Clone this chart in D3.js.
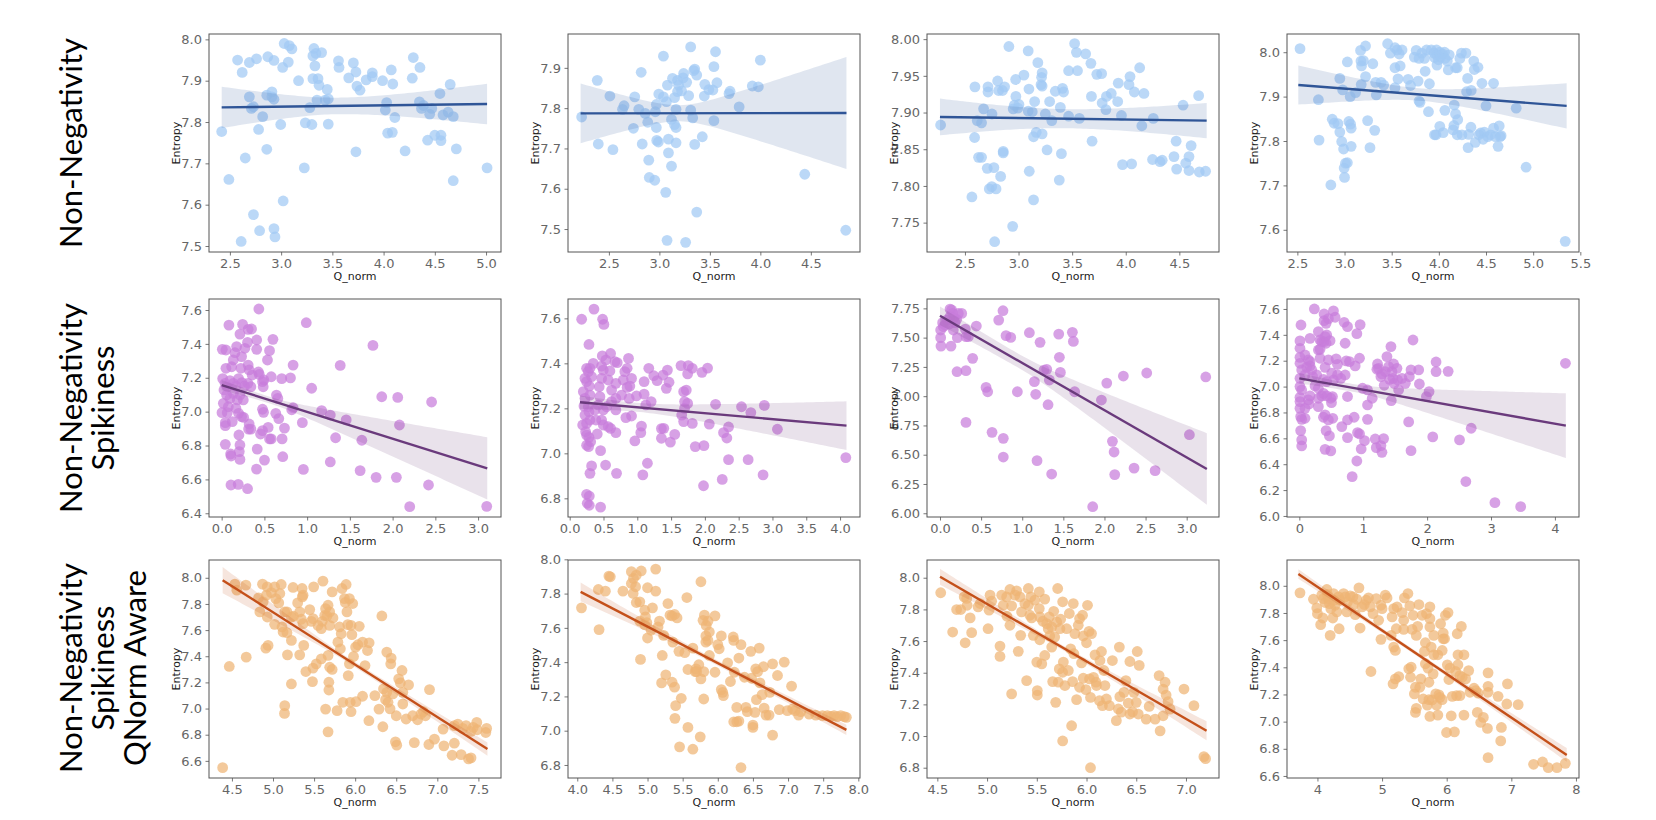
<!DOCTYPE html>
<html><head><meta charset="utf-8">
<script src="https://cdn.jsdelivr.net/npm/d3@7"></script>
<style>body{margin:0;background:#fff;} svg{display:block;}</style>
</head><body>
<svg id="chart" width="1656" height="820"></svg>
<script>
// ---------------- DATA ----------------
const rowLabels = [["Non-Negativity"], ["Non-Negativity", "Spikiness"], ["Non-Negativity", "Spikiness", "QNorm Aware"]];
const xLabel = "Q_norm";
const yLabel = "Entropy";

const xTickLabels = [
  ["2.5","3.0","3.5","4.0","4.5","5.0"], ["2.5","3.0","3.5","4.0","4.5"], ["2.5","3.0","3.5","4.0","4.5"], ["2.5","3.0","3.5","4.0","4.5","5.0","5.5"],
  ["0.0","0.5","1.0","1.5","2.0","2.5","3.0"], ["0.0","0.5","1.0","1.5","2.0","2.5","3.0","3.5","4.0"], ["0.0","0.5","1.0","1.5","2.0","2.5","3.0"], ["0","1","2","3","4"],
  ["4.5","5.0","5.5","6.0","6.5","7.0","7.5"], ["4.0","4.5","5.0","5.5","6.0","6.5","7.0","7.5","8.0"], ["4.5","5.0","5.5","6.0","6.5","7.0"], ["4","5","6","7","8"]
];
const yTickLabels = [
  ["7.5","7.6","7.7","7.8","7.9","8.0"], ["7.5","7.6","7.7","7.8","7.9"], ["7.75","7.80","7.85","7.90","7.95","8.00"], ["7.6","7.7","7.8","7.9","8.0"],
  ["6.4","6.6","6.8","7.0","7.2","7.4","7.6"], ["6.8","7.0","7.2","7.4","7.6"], ["6.00","6.25","6.50","6.75","7.00","7.25","7.50","7.75"], ["6.0","6.2","6.4","6.6","6.8","7.0","7.2","7.4","7.6"],
  ["6.6","6.8","7.0","7.2","7.4","7.6","7.8","8.0"], ["6.8","7.0","7.2","7.4","7.6","7.8","8.0"], ["6.8","7.0","7.2","7.4","7.6","7.8","8.0"], ["6.6","6.8","7.0","7.2","7.4","7.6","7.8","8.0"]
];
const xLimits = [
  [2.296,5.146],[2.095,4.987],[2.146,4.870],[2.390,5.486],
  [-0.148,3.268],[-0.025,4.295],[-0.158,3.393],[-0.193,4.377],
  [4.221,7.775],[3.868,8.024],[4.396,7.332],[3.529,8.047]
];
const yLimits = [
  [7.4855,8.013],[7.443,7.984],[7.710,8.007],[7.550,8.041],
  [6.378,7.665],[6.717,7.686],[5.968,7.830],[5.992,7.677],
  [6.469,8.136],[6.724,7.996],[6.735,8.112],[6.585,8.190]
];
// regression line: [xStart, yStart, xEnd, yEnd]
const fitLines = [
  [2.42,7.8355,5.01,7.8435],[2.22,7.787,4.853,7.788],[2.267,7.894,4.755,7.889],[2.51,7.926,5.355,7.879],
  [0.0,7.157,3.107,6.665],[0.152,7.227,4.095,7.123],[0.0,7.687,3.245,6.378],[0.0,7.064,4.171,6.698],
  [4.387,7.982,7.61,6.69],[4.048,7.810,7.830,7.005],[4.527,8.006,7.207,7.033],[3.705,8.087,7.857,6.755]
];
// confidence band half-widths: [at start, narrowest, at end]
const ciHalfWidths = [
  [0.05,0.02,0.049],[0.074,0.02,0.139],[0.025,0.013,0.024],[0.044,0.014,0.051],
  [0.03,0.02,0.184],[0.03,0.02,0.108],[0.08,0.06,0.306],[0.04,0.03,0.25],
  [0.1,0.02,0.05],[0.054,0.015,0.03],[0.05,0.015,0.06],[0.035,0.015,0.05]
];

const pts1 = [[2.575,7.95],[2.62,7.92],[2.69,7.944],[2.76,7.953],[2.87,7.958],[2.93,7.949],[3.03,7.99],[3.08,7.985],[3.105,7.977],[3.07,7.945],[3.015,7.932],[3.32,7.978],[3.34,7.966],[3.31,7.96],[3.395,7.968],[3.33,7.936],[3.17,7.9],[3.31,7.905],[3.36,7.905],[3.37,7.889],[3.45,7.879],[3.56,7.948],[3.565,7.932],[3.705,7.943],[3.73,7.921],[3.66,7.907],[3.74,7.887],[3.77,7.877],[3.83,7.902],[3.89,7.919],[3.89,7.91],[3.99,7.9],[4.075,7.926],[4.09,7.892],[4.29,7.956],[4.355,7.932],[4.28,7.906],[4.65,7.891],[4.55,7.869],[2.42,7.777],[2.49,7.661],[2.61,7.511],[2.65,7.713],[2.69,7.861],[2.71,7.833],[2.73,7.837],[2.78,7.782],[2.73,7.576],[2.79,7.537],[2.82,7.813],[2.86,7.865],[2.91,7.873],[2.91,7.861],[2.93,7.855],[2.86,7.734],[2.93,7.542],[2.94,7.522],[2.996,7.794],[3.02,7.609],[3.28,7.835],[3.236,7.798],[3.226,7.689],[3.3,7.794],[3.35,7.853],[3.43,7.853],[3.46,7.856],[3.46,7.795],[3.73,7.728],[4.03,7.847],[4.017,7.829],[4.04,7.773],[4.085,7.775],[4.11,7.811],[4.21,7.73],[4.35,7.849],[4.37,7.833],[4.39,7.84],[4.45,7.819],[4.47,7.833],[4.43,7.756],[4.5,7.768],[4.56,7.768],[4.56,7.755],[4.58,7.817],[4.63,7.824],[4.68,7.813],[4.71,7.735],[4.68,7.658],[5.01,7.689]];
const pts2 = [[2.23,7.778],[2.385,7.869],[2.395,7.711],[2.51,7.83],[2.54,7.697],[2.635,7.797],[2.65,7.806],[2.756,7.828],[2.743,7.75],[2.796,7.797],[2.82,7.889],[2.83,7.711],[2.86,7.787],[2.885,7.765],[2.895,7.671],[2.9,7.628],[2.954,7.621],[2.96,7.791],[2.97,7.809],[2.97,7.752],[2.974,7.72],[2.99,7.716],[2.994,7.835],[3.04,7.929],[3.04,7.828],[3.07,7.816],[3.08,7.857],[3.063,7.591],[3.076,7.472],[3.09,7.723],[3.09,7.689],[3.12,7.656],[3.12,7.772],[3.13,7.874],[3.15,7.826],[3.15,7.759],[3.165,7.752],[3.165,7.797],[3.165,7.714],[3.18,7.869],[3.19,7.857],[3.18,7.841],[3.22,7.843],[3.24,7.886],[3.235,7.875],[3.27,7.864],[3.29,7.831],[3.31,7.795],[3.31,7.952],[3.33,7.776],[3.34,7.893],[3.35,7.897],[3.37,7.882],[3.35,7.71],[3.37,7.542],[3.26,7.467],[3.425,7.729],[3.445,7.83],[3.45,7.859],[3.49,7.846],[3.53,7.845],[3.54,7.903],[3.54,7.769],[3.556,7.94],[3.57,7.863],[3.69,7.836],[3.7,7.842],[3.79,7.803],[3.92,7.855],[3.98,7.853],[4.0,7.919],[4.44,7.636],[4.846,7.497]];
const pts3 = [[2.273,7.883],[2.565,7.785],[2.59,7.866],[2.593,7.935],[2.615,7.889],[2.655,7.886],[2.627,7.839],[2.655,7.839],[2.674,7.905],[2.708,7.824],[2.715,7.935],[2.715,7.928],[2.727,7.796],[2.752,7.898],[2.77,7.825],[2.75,7.799],[2.79,7.796],[2.805,7.943],[2.814,7.93],[2.833,7.813],[2.85,7.93],[2.87,7.935],[2.857,7.847],[2.857,7.845],[2.777,7.724],[2.91,7.99],[2.945,7.745],[2.95,7.905],[2.96,7.91],[2.975,7.922],[2.973,7.945],[2.994,7.906],[3.004,7.911],[3.05,7.951],[3.09,7.984],[3.097,7.932],[3.09,7.902],[3.128,7.901],[3.1,7.82],[3.14,7.781],[3.14,7.867],[3.15,7.915],[3.165,7.873],[3.18,7.968],[3.215,7.948],[3.22,7.954],[3.21,7.938],[3.22,7.936],[3.22,7.871],[3.25,7.898],[3.266,7.849],[3.29,7.915],[3.31,7.889],[3.343,7.929],[3.39,7.907],[3.41,7.933],[3.42,7.928],[3.4,7.844],[3.38,7.808],[3.467,7.895],[3.467,7.957],[3.523,7.994],[3.54,7.982],[3.55,7.957],[3.567,7.892],[3.626,7.98],[3.675,7.967],[3.73,7.952],[3.775,7.953],[3.68,7.922],[3.686,7.861],[3.78,7.913],[3.815,7.904],[3.82,7.922],[3.865,7.926],[3.93,7.94],[3.925,7.915],[3.96,7.896],[3.97,7.829],[4.04,7.949],[4.03,7.938],[4.08,7.928],[4.13,7.961],[4.17,7.926],[4.055,7.83],[4.15,7.882],[4.257,7.892],[4.25,7.836],[4.32,7.833],[4.34,7.835],[4.45,7.84],[4.47,7.861],[4.475,7.823],[4.535,7.91],[4.56,7.831],[4.59,7.84],[4.61,7.855],[4.59,7.821],[4.68,7.923],[4.686,7.819],[4.745,7.82]];
const pts4 = [[2.528,8.008],[2.723,7.893],[2.73,7.802],[2.855,7.701],[2.87,7.849],[2.89,7.84],[2.93,7.839],[2.95,7.941],[2.95,7.82],[2.97,7.799],[2.98,7.915],[2.99,7.782],[2.996,7.739],[3.0,7.718],[3.01,7.75],[3.03,7.751],[3.03,7.978],[3.046,7.844],[3.06,7.9],[3.064,7.838],[3.07,7.829],[3.07,7.788],[3.117,7.909],[3.17,8.004],[3.174,7.98],[3.18,7.969],[3.177,7.927],[3.2,7.981],[3.223,8.014],[3.223,7.945],[3.245,7.846],[3.27,7.785],[3.3,7.974],[3.32,7.824],[3.33,7.932],[3.337,7.904],[3.387,7.932],[3.415,7.926],[3.457,8.019],[3.486,7.998],[3.535,8.01],[3.557,8.005],[3.58,7.996],[3.61,8.005],[3.535,7.965],[3.535,7.92],[3.567,7.94],[3.59,7.969],[3.674,7.939],[3.7,7.925],[3.74,7.989],[3.76,8.004],[3.79,7.986],[3.78,7.935],[3.79,7.89],[3.8,7.887],[3.82,7.998],[3.847,7.986],[3.87,8.005],[3.855,7.957],[3.89,7.866],[3.9,7.929],[3.92,8.005],[3.95,7.998],[3.955,7.988],[3.975,8.005],[3.98,7.994],[3.996,7.983],[4.01,8.0],[4.018,7.989],[3.98,7.971],[4.04,7.996],[4.06,8.0],[4.064,7.986],[4.09,7.98],[4.11,7.994],[4.1,7.96],[4.064,7.869],[4.01,7.833],[4.046,7.819],[3.954,7.814],[3.97,7.814],[4.163,7.881],[4.177,7.861],[4.16,7.835],[4.152,7.825],[4.2,7.848],[4.195,7.814],[4.177,7.965],[4.195,7.965],[4.223,7.986],[4.24,7.998],[4.287,7.998],[4.245,7.814],[4.294,7.911],[4.305,7.941],[4.343,7.914],[4.316,7.815],[4.31,7.785],[4.34,7.831],[4.37,7.98],[4.376,7.961],[4.415,7.966],[4.387,7.797],[4.425,7.814],[4.443,7.818],[4.457,7.93],[4.482,7.82],[4.5,7.879],[4.47,7.804],[4.52,7.81],[4.55,7.814],[4.58,7.93],[4.58,7.829],[4.6,7.81],[4.64,7.834],[4.628,7.788],[4.65,7.81],[4.66,7.812],[4.82,7.874],[4.925,7.741],[5.34,7.574]];
const pts5 = [[0.435,7.606],[0.085,7.511],[0.245,7.515],[0.31,7.486],[0.35,7.488],[0.214,7.458],[0.008,7.368],[0.05,7.364],[0.303,7.409],[0.41,7.423],[0.41,7.368],[0.6,7.427],[0.56,7.36],[0.536,7.305],[0.175,7.384],[0.156,7.348],[0.272,7.374],[0.233,7.325],[0.136,7.305],[0.117,7.265],[0.05,7.256],[0.225,7.256],[0.31,7.275],[0.322,7.246],[0.357,7.216],[0.43,7.234],[0.44,7.22],[0.836,7.275],[1.387,7.273],[0.99,7.525],[1.77,7.391],[0.012,7.195],[0.04,7.167],[0.066,7.147],[0.097,7.183],[0.136,7.167],[0.167,7.151],[0.198,7.195],[0.237,7.171],[0.268,7.151],[0.307,7.167],[0.342,7.147],[0.027,7.128],[0.058,7.098],[0.097,7.078],[0.136,7.108],[0.183,7.069],[0.214,7.098],[0.253,7.069],[0.02,7.049],[0.078,7.029],[0.167,7.02],[0.198,6.99],[0.004,6.994],[0.066,6.994],[0.124,6.941],[0.043,6.935],[0.043,6.917],[0.233,6.97],[0.257,6.966],[0.202,6.862],[0.322,6.927],[0.315,6.897],[0.342,6.897],[0.478,7.177],[0.486,7.147],[0.494,7.187],[0.58,7.206],[0.703,7.195],[0.805,7.199],[0.641,7.098],[0.657,7.078],[0.478,7.014],[0.49,6.996],[0.633,6.99],[0.668,6.959],[0.735,6.903],[0.82,7.011],[0.836,7.023],[1.053,7.138],[0.544,6.907],[0.455,6.868],[0.478,6.888],[0.56,6.839],[0.58,6.839],[0.707,6.839],[0.043,6.807],[0.214,6.803],[0.416,6.779],[0.105,6.75],[0.11,6.738],[0.214,6.718],[0.206,6.764],[0.715,6.734],[0.501,6.714],[0.408,6.661],[0.109,6.567],[0.194,6.571],[0.303,6.545],[0.956,6.659],[0.944,6.935],[1.17,7.006],[1.271,6.98],[1.457,6.951],[1.333,6.846],[1.271,6.703],[1.873,7.088],[2.06,7.084],[2.08,6.921],[2.456,7.057],[1.64,6.831],[1.62,6.652],[1.807,6.612],[2.044,6.612],[2.42,6.567],[2.2,6.439],[3.101,6.441]];
const pts6 = [[0.177,7.596],[0.359,7.641],[0.487,7.596],[0.506,7.573],[0.285,7.484],[0.226,7.333],[0.202,7.274],[0.25,7.378],[0.275,7.363],[0.3,7.378],[0.324,7.341],[0.349,7.4],[0.25,7.319],[0.29,7.299],[0.226,7.244],[0.3,7.259],[0.211,7.21],[0.275,7.207],[0.226,7.17],[0.285,7.185],[0.192,7.126],[0.25,7.133],[0.3,7.148],[0.236,7.096],[0.25,7.081],[0.285,7.071],[0.31,7.052],[0.25,7.036],[0.28,7.03],[0.388,7.148],[0.373,7.193],[0.423,7.215],[0.447,7.252],[0.437,7.296],[0.472,7.333],[0.497,7.37],[0.472,7.388],[0.482,7.433],[0.536,7.415],[0.57,7.326],[0.595,7.366],[0.62,7.281],[0.605,7.444],[0.669,7.407],[0.703,7.403],[0.683,7.311],[0.683,7.244],[0.497,7.193],[0.546,7.207],[0.62,7.23],[0.683,7.193],[0.767,7.259],[0.792,7.326],[0.816,7.363],[0.85,7.378],[0.87,7.422],[0.85,7.293],[0.88,7.244],[0.915,7.333],[0.89,7.299],[0.472,7.148],[0.497,7.126],[0.57,7.119],[0.605,7.111],[0.683,7.092],[0.408,7.086],[0.831,7.159],[0.915,7.166],[0.988,7.255],[1.101,7.319],[1.17,7.378],[1.101,7.263],[1.244,7.345],[1.293,7.323],[1.382,7.348],[1.446,7.37],[1.47,7.316],[1.43,7.289],[1.205,7.23],[1.126,7.215],[1.062,7.121],[1.052,7.092],[0.964,7.055],[1.357,7.11],[1.392,7.111],[1.357,7.067],[1.554,7.084],[1.49,7.05],[1.647,7.39],[1.755,7.39],[1.814,7.378],[1.745,7.353],[1.686,7.274],[1.725,7.281],[1.7,7.23],[1.7,7.2],[1.745,7.222],[1.657,7.17],[1.686,7.141],[1.814,7.133],[1.957,7.36],[2.04,7.379],[2.158,7.218],[2.065,7.13],[1.858,7.03],[1.986,7.034],[2.542,7.207],[2.68,7.181],[2.88,7.213],[2.276,7.092],[2.325,7.068],[2.35,7.117],[3.073,7.107],[2.35,6.972],[2.64,6.972],[2.257,6.884],[1.98,6.856],[2.861,6.904],[4.085,6.981],[0.324,6.944],[0.457,7.012],[0.531,6.948],[0.3,6.911],[0.693,6.911],[1.082,6.904],[1.15,6.956],[0.25,6.818],[0.29,6.81],[0.26,6.778],[0.29,6.769],[0.457,6.761]];
const pts7 = [[0.122,7.744],[0.142,7.736],[0.154,7.707],[0.122,7.679],[0.17,7.67],[0.081,7.65],[0.032,7.628],[0.061,7.608],[0.114,7.616],[0.182,7.628],[0.203,7.656],[0.223,7.707],[0.264,7.707],[0.041,7.593],[0.008,7.565],[0.162,7.565],[0.008,7.5],[0.012,7.428],[0.134,7.428],[0.211,7.5],[0.308,7.573],[0.316,7.508],[0.345,7.508],[0.442,7.599],[0.397,7.323],[0.207,7.209],[0.316,7.218],[0.316,6.776],[0.714,7.65],[0.766,7.73],[0.803,7.517],[0.86,7.502],[0.56,7.075],[0.58,7.038],[0.633,6.691],[0.77,6.64],[0.77,6.48],[0.941,7.038],[1.087,7.542],[1.217,7.46],[1.148,7.124],[1.164,7.016],[1.265,7.223],[1.298,7.229],[1.33,7.138],[1.314,6.927],[1.444,7.53],[1.452,7.332],[1.464,7.203],[1.18,6.449],[1.358,6.335],[1.61,7.545],[1.622,7.468],[1.638,7.038],[1.963,6.967],[2.028,7.112],[2.23,7.172],[2.514,7.198],[2.097,6.614],[2.117,6.523],[2.125,6.33],[2.36,6.386],[2.616,6.364],[1.857,6.056],[3.033,6.671],[3.232,7.164]];
const pts8 = [[0.235,7.6],[0.387,7.561],[0.534,7.585],[0.56,7.536],[0.387,7.51],[0.419,7.489],[0.455,7.525],[0.026,7.476],[0.701,7.497],[0.754,7.463],[0.952,7.479],[0.9,7.409],[0.298,7.425],[0.167,7.373],[0.324,7.36],[0.351,7.348],[0.387,7.348],[0.403,7.386],[0.429,7.399],[0.481,7.355],[0.419,7.335],[0.01,7.353],[0.01,7.296],[0.717,7.335],[0.324,7.288],[0.298,7.283],[0.01,7.226],[0.089,7.244],[0.01,7.18],[0.141,7.206],[0.167,7.193],[0.324,7.219],[0.455,7.206],[0.576,7.214],[0.733,7.198],[0.785,7.193],[0.942,7.219],[0.874,7.16],[0.597,7.172],[0.403,7.149],[0.167,7.16],[0.115,7.149],[0.037,7.129],[0.194,7.129],[0.089,7.09],[0.209,7.077],[0.272,7.09],[0.377,7.056],[0.429,7.038],[0.508,7.103],[0.597,7.09],[0.649,7.064],[0.717,7.09],[0.534,7.051],[0.01,7.064],[0.01,7.0],[0.037,6.974],[0.246,7.005],[0.298,6.987],[0.377,6.948],[0.351,6.928],[0.429,6.928],[0.492,6.91],[0.518,6.923],[0.503,6.876],[0.298,6.91],[0.167,6.928],[0.141,6.897],[0.01,6.917],[0.01,6.884],[0.01,6.832],[0.089,6.832],[0.298,6.845],[0.152,6.866],[0.021,6.768],[0.037,6.747],[0.089,6.755],[0.377,6.763],[0.403,6.781],[0.523,6.755],[0.455,6.742],[0.419,6.66],[0.471,6.619],[0.021,6.66],[0.037,6.588],[0.037,6.541],[0.403,6.515],[0.492,6.503],[0.665,6.691],[0.754,6.923],[0.754,6.742],[0.754,6.606],[0.858,6.763],[0.9,6.425],[0.911,6.644],[0.942,6.634],[0.827,6.304],[0.968,6.518],[1.02,6.582],[0.989,6.987],[1.067,6.974],[1.067,6.858],[1.067,6.747],[1.141,6.91],[1.188,6.595],[1.204,6.528],[1.277,6.544],[1.293,6.492],[1.319,6.598],[1.224,7.175],[1.214,7.134],[1.24,7.141],[1.277,7.077],[1.293,7.098],[1.346,7.116],[1.371,7.232],[1.398,7.155],[1.434,7.309],[1.45,7.116],[1.413,7.056],[1.465,7.064],[1.476,7.175],[1.528,7.141],[1.539,7.051],[1.486,7.025],[1.329,7.01],[1.439,6.892],[1.554,6.974],[1.607,7.064],[1.659,7.025],[1.722,7.077],[1.748,7.129],[1.868,7.129],[1.779,7.36],[1.879,7.02],[1.989,6.923],[2.03,6.961],[2.14,7.19],[2.14,7.116],[2.329,7.118],[1.711,6.727],[1.748,6.505],[2.088,6.611],[2.507,6.588],[2.69,6.678],[2.606,6.266],[3.061,6.103],[3.464,6.072],[4.165,7.18]];
const pts9 = [[4.387,6.548],[4.468,7.322],[4.536,7.951],[4.56,7.905],[4.674,7.393],[4.67,7.944],[4.824,7.846],[4.872,7.951],[4.93,7.931],[4.98,7.887],[5.02,7.931],[4.92,7.867],[4.88,7.816],[4.84,7.739],[4.93,7.7],[4.94,7.483],[4.913,7.462],[5.034,7.841],[5.07,7.808],[5.083,7.88],[5.1,7.949],[5.02,7.644],[5.11,7.624],[5.123,7.585],[5.143,7.739],[5.17,7.739],[5.17,7.58],[5.143,7.022],[5.14,6.963],[5.176,7.411],[5.224,7.188],[5.224,7.521],[5.244,7.926],[5.224,7.7],[5.25,7.706],[5.3,7.808],[5.325,7.739],[5.345,7.683],[5.325,7.411],[5.354,7.918],[5.366,7.867],[5.366,7.649],[5.357,7.854],[5.374,7.483],[5.4,7.283],[5.447,7.757],[5.467,7.667],[5.487,7.688],[5.48,7.206],[5.487,7.309],[5.495,7.931],[5.527,7.342],[5.548,7.636],[5.6,7.667],[5.588,7.611],[5.63,7.713],[5.608,7.974],[5.64,7.764],[5.657,7.708],[5.67,7.79],[5.69,7.739],[5.588,7.38],[5.67,7.406],[5.69,7.316],[5.64,6.996],[5.67,6.822],[5.68,7.201],[5.68,7.142],[5.72,7.299],[5.69,7.636],[5.72,7.892],[5.73,7.693],[5.78,6.984],[5.79,7.508],[5.82,7.457],[5.83,7.572],[5.81,7.624],[5.84,7.918],[5.85,7.048],[5.87,7.841],[5.89,7.949],[5.88,7.811],[5.9,7.739],[5.91,7.642],[5.916,7.252],[5.93,7.342],[5.95,7.636],[5.93,7.841],[5.97,7.803],[5.94,7.048],[5.95,6.976],[5.96,7.565],[5.98,7.398],[6.01,7.053],[6.005,7.47],[6.05,7.629],[6.033,7.488],[6.09,7.508],[6.09,7.094],[6.12,7.329],[6.15,7.444],[6.17,7.503],[6.167,6.907],[6.24,7.099],[6.29,6.996],[6.325,7.708],[6.337,6.861],[6.385,7.432],[6.438,7.386],[6.433,7.342],[6.345,7.15],[6.385,7.124],[6.37,7.068],[6.4,7.048],[6.425,6.998],[6.458,7.112],[6.5,6.945],[6.49,6.746],[6.506,6.72],[6.53,7.227],[6.55,7.196],[6.57,7.291],[6.58,7.124],[6.58,7.035],[6.62,6.92],[6.65,7.181],[6.7,6.945],[6.72,6.74],[6.76,6.914],[6.8,6.958],[6.83,6.976],[6.855,6.945],[6.905,7.145],[6.897,6.725],[6.965,6.766],[7.07,6.843],[7.08,6.715],[7.18,6.643],[7.207,6.735],[7.207,6.869],[7.25,6.881],[7.29,6.648],[7.31,6.848],[7.35,6.869],[7.38,6.615],[7.41,6.623],[7.41,6.826],[7.437,6.856],[7.48,6.894],[7.485,6.838],[7.59,6.817],[7.6,6.848]];
const pts10 = [[4.06,7.717],[4.3,7.824],[4.31,7.59],[4.4,7.814],[4.45,7.902],[4.47,7.898],[4.65,7.814],[4.77,7.928],[4.8,7.889],[4.84,7.908],[4.91,7.932],[4.77,7.859],[4.795,7.801],[4.83,7.84],[4.84,7.748],[4.89,7.752],[4.96,7.703],[4.97,7.664],[5.0,7.834],[5.07,7.717],[5.116,7.943],[5.116,7.814],[4.89,7.639],[4.96,7.619],[4.99,7.631],[5.0,7.541],[5.05,7.586],[5.15,7.605],[5.17,7.639],[4.9,7.416],[5.21,7.439],[5.23,7.556],[5.26,7.326],[5.29,7.742],[5.32,7.674],[5.35,7.67],[5.385,7.678],[5.42,7.658],[5.36,7.517],[5.2,7.279],[5.35,7.283],[5.385,7.254],[5.4,7.146],[5.39,7.072],[5.447,7.463],[5.48,7.189],[5.53,7.455],[5.456,6.906],[5.56,7.777],[5.575,7.019],[5.575,7.357],[5.645,6.892],[5.645,7.482],[5.68,7.345],[5.69,7.361],[5.73,7.385],[5.7,7.345],[5.75,6.964],[5.76,7.302],[5.76,7.869],[5.79,7.644],[5.8,7.345],[5.8,7.185],[5.81,7.674],[5.83,7.553],[5.83,7.517],[5.835,7.614],[5.86,7.639],[5.88,7.576],[5.86,7.527],[5.88,7.439],[5.96,7.67],[5.96,7.341],[6.0,7.502],[6.02,7.478],[6.05,7.553],[6.05,7.24],[6.07,7.224],[6.08,7.205],[6.14,7.396],[6.18,7.287],[6.22,7.547],[6.227,7.527],[6.236,7.341],[6.227,7.052],[6.27,7.052],[6.27,7.136],[6.3,7.056],[6.3,7.424],[6.33,7.502],[6.33,6.785],[6.38,7.312],[6.4,7.136],[6.42,7.111],[6.47,7.463],[6.48,7.306],[6.5,7.033],[6.5,7.019],[6.53,7.107],[6.54,7.361],[6.55,7.181],[6.567,7.345],[6.59,7.482],[6.6,7.279],[6.63,7.21],[6.65,7.373],[6.66,7.132],[6.686,7.091],[6.73,7.091],[6.74,7.224],[6.78,7.39],[6.78,6.974],[6.85,7.322],[6.875,7.123],[6.946,7.4],[6.99,7.117],[7.05,7.26],[7.065,7.127],[7.1,7.117],[7.15,7.091],[7.18,7.111],[7.3,7.097],[7.394,7.091],[7.49,7.088],[7.56,7.088],[7.61,7.084],[7.655,7.088],[7.7,7.082],[7.75,7.088],[7.8,7.082],[7.83,7.078]];
const pts11 = [[4.534,7.905],[4.654,7.657],[4.694,7.799],[4.735,7.799],[4.77,7.879],[4.78,7.589],[4.795,7.869],[4.8,7.826],[4.83,7.746],[4.845,7.653],[4.91,7.816],[4.93,7.837],[5.01,7.678],[5.02,7.795],[5.03,7.89],[5.046,7.852],[5.13,7.568],[5.13,7.503],[5.147,7.89],[5.163,7.826],[5.197,7.879],[5.2,7.757],[5.23,7.926],[5.23,7.7],[5.247,7.822],[5.247,7.266],[5.28,7.89],[5.297,7.917],[5.314,7.535],[5.33,7.879],[5.338,7.636],[5.347,7.784],[5.38,7.837],[5.398,7.35],[5.415,7.932],[5.415,7.826],[5.43,7.763],[5.448,7.746],[5.44,7.879],[5.465,7.636],[5.48,7.858],[5.5,7.467],[5.505,7.287],[5.505,7.259],[5.525,7.911],[5.525,7.805],[5.53,7.608],[5.53,7.752],[5.55,7.456],[5.56,7.725],[5.58,7.509],[5.58,7.865],[5.6,7.71],[5.615,7.678],[5.625,7.752],[5.63,7.632],[5.65,7.562],[5.65,7.689],[5.66,7.344],[5.67,7.788],[5.68,7.625],[5.69,7.213],[5.7,7.721],[5.71,7.932],[5.716,7.34],[5.726,7.424],[5.733,7.678],[5.74,7.738],[5.76,7.403],[5.76,7.848],[5.767,7.467],[5.76,6.969],[5.783,7.319],[5.8,7.678],[5.817,7.414],[5.827,7.774],[5.84,7.551],[5.85,7.065],[5.86,7.344],[5.867,7.837],[5.883,7.647],[5.873,7.52],[5.9,7.23],[5.917,7.7],[5.93,7.742],[5.93,7.308],[5.95,7.462],[5.96,7.763],[5.967,7.632],[5.967,7.365],[5.994,7.293],[6.0,7.589],[6.01,7.826],[6.025,7.661],[6.03,7.361],[6.04,6.8],[6.04,7.244],[6.05,7.647],[6.07,7.371],[6.085,7.513],[6.095,7.34],[6.1,7.319],[6.13,7.223],[6.135,7.477],[6.15,7.534],[6.16,7.192],[6.175,7.414],[6.185,7.319],[6.2,7.234],[6.23,7.192],[6.26,7.477],[6.3,7.097],[6.32,7.171],[6.33,7.562],[6.335,7.249],[6.35,7.151],[6.376,7.276],[6.396,7.35],[6.42,7.208],[6.436,7.471],[6.436,7.139],[6.463,7.153],[6.477,7.276],[6.5,7.213],[6.51,7.534],[6.52,7.139],[6.53,7.446],[6.6,7.107],[6.63,7.187],[6.69,7.107],[6.73,7.382],[6.74,7.033],[6.77,7.128],[6.77,7.297],[6.79,7.34],[6.8,7.259],[6.82,7.217],[6.84,7.17],[6.98,7.297],[7.08,7.192],[7.18,6.87],[7.197,6.857]];
const pts12 = [[3.73,7.948],[3.938,7.901],[3.99,7.837],[4.0,7.795],[4.05,7.714],[4.083,7.763],[4.067,7.931],[4.093,7.906],[4.12,7.877],[4.145,7.973],[4.155,7.936],[4.17,7.906],[4.186,7.869],[4.207,7.832],[4.197,7.635],[4.238,7.763],[4.248,7.943],[4.26,7.894],[4.274,7.857],[4.3,7.808],[4.326,7.919],[4.336,7.684],[4.35,7.894],[4.404,7.943],[4.43,7.919],[4.455,7.808],[4.466,7.882],[4.507,7.926],[4.55,7.919],[4.56,7.862],[4.585,7.788],[4.61,7.901],[4.642,7.985],[4.66,7.689],[4.69,7.845],[4.725,7.862],[4.755,7.894],[4.79,7.911],[4.818,7.845],[4.86,7.795],[4.828,7.369],[4.91,7.906],[4.947,7.746],[4.983,7.857],[5.0,7.832],[4.983,7.606],[5.05,7.931],[5.077,7.911],[5.14,7.635],[5.155,7.771],[5.18,7.832],[5.18,7.549],[5.17,7.278],[5.206,7.524],[5.22,7.684],[5.232,7.845],[5.206,7.315],[5.258,7.332],[5.31,7.803],[5.335,7.679],[5.335,7.746],[5.346,7.911],[5.4,7.943],[5.413,7.389],[5.43,7.852],[5.44,7.327],[5.45,7.401],[5.465,7.679],[5.48,7.783],[5.5,7.204],[5.516,7.068],[5.53,7.098],[5.53,7.635],[5.516,7.253],[5.55,7.701],[5.57,7.862],[5.584,7.253],[5.6,7.315],[5.62,7.783],[5.636,7.167],[5.656,7.517],[5.67,7.581],[5.67,7.426],[5.687,7.795],[5.7,7.122],[5.71,7.394],[5.725,7.29],[5.725,7.162],[5.74,7.845],[5.74,7.758],[5.74,7.697],[5.74,7.038],[5.76,7.549],[5.775,7.16],[5.79,7.352],[5.8,7.635],[5.8,7.492],[5.83,7.204],[5.843,7.122],[5.863,7.492],[5.863,7.048],[5.88,7.197],[5.894,7.179],[5.905,7.721],[5.93,7.162],[5.93,7.524],[5.946,7.61],[5.946,7.652],[5.967,7.61],[5.98,7.783],[5.998,6.92],[6.01,7.418],[6.02,7.803],[6.034,7.31],[6.05,7.394],[6.07,7.043],[6.086,7.186],[6.12,6.925],[6.138,7.369],[6.153,7.191],[6.163,7.647],[6.174,7.492],[6.174,7.418],[6.205,7.339],[6.205,7.191],[6.226,7.701],[6.24,7.327],[6.267,7.492],[6.267,7.048],[6.293,7.315],[6.34,7.376],[6.36,7.216],[6.423,7.246],[6.45,7.228],[6.474,7.068],[6.485,7.21],[6.526,6.994],[6.567,7.031],[6.63,6.95],[6.64,7.359],[6.64,7.26],[6.64,7.216],[6.64,6.735],[6.795,7.186],[6.836,6.858],[6.846,6.957],[6.93,7.13],[6.94,7.278],[7.106,7.125],[7.344,6.686],[7.483,6.703],[7.571,6.661],[7.706,6.661],[7.836,6.693]];
const points = [pts1, pts2, pts3, pts4, pts5, pts6, pts7, pts8, pts9, pts10, pts11, pts12];

// ---------------- STYLE / LAYOUT ----------------
const rowStyles = [
  {point: "#a1c9f4", pointOpacity: 0.72, line: "#2f5597"},
  {point: "#c77ddb", pointOpacity: 0.72, line: "#6a3a7c"},
  {point: "#eeb474", pointOpacity: 0.72, line: "#c4501a"}
];
const colLeft = [209, 568, 927, 1287];
const rowTop = [34, 299, 560];
const PW = 292, PH = 218;

const svg = d3.select("#chart");
svg.append("rect").attr("width", 1656).attr("height", 820).attr("fill", "#fff");

for (let i = 0; i < 12; i++) {
  const r = Math.floor(i / 4), c = i % 4;
  const st = rowStyles[r];
  const g = svg.append("g").attr("transform", `translate(${colLeft[c]},${rowTop[r]})`);
  const x = d3.scaleLinear().domain(xLimits[i]).range([0, PW]);
  const y = d3.scaleLinear().domain(yLimits[i]).range([PH, 0]);

  const clipId = "clip" + i;
  g.append("clipPath").attr("id", clipId).append("rect").attr("width", PW).attr("height", PH);
  const plot = g.append("g").attr("clip-path", `url(#${clipId})`);

  // points
  plot.append("g").selectAll("circle").data(points[i]).join("circle")
    .attr("cx", d => x(d[0])).attr("cy", d => y(d[1])).attr("r", 5.4)
    .attr("fill", st.point).attr("fill-opacity", st.pointOpacity);

  // confidence band
  const [x0, y0, x1, y1] = fitLines[i];
  const [h0, hm, h1] = ciHalfWidths[i];
  const xm = d3.mean(points[i], d => d[0]);
  const lineY = xv => y0 + (y1 - y0) * (xv - x0) / (x1 - x0);
  const halfW = xv => {
    if (xv < xm) { const t = (xv - xm) / (x0 - xm); return Math.sqrt(hm*hm + (h0*h0 - hm*hm) * t * t); }
    const t = (xv - xm) / (x1 - xm); return Math.sqrt(hm*hm + (h1*h1 - hm*hm) * t * t);
  };
  const xs = d3.range(0, 81).map(k => x0 + (x1 - x0) * k / 80);
  plot.append("path").datum(xs)
    .attr("d", d3.area().x(d => x(d)).y0(d => y(lineY(d) - halfW(d))).y1(d => y(lineY(d) + halfW(d))))
    .attr("fill", st.line).attr("fill-opacity", 0.15);

  // regression line
  plot.append("line").attr("x1", x(x0)).attr("y1", y(y0)).attr("x2", x(x1)).attr("y2", y(y1))
    .attr("stroke", st.line).attr("stroke-width", 2.4);

  // axes
  const xTicks = xTickLabels[i].map(Number);
  const yTicks = yTickLabels[i].map(Number);
  const xAxis = g.append("g").attr("transform", `translate(0,${PH})`)
    .call(d3.axisBottom(x).tickValues(xTicks).tickFormat((d, k) => xTickLabels[i][k]).tickSize(3.5).tickPadding(3.5));
  const yAxis = g.append("g")
    .call(d3.axisLeft(y).tickValues(yTicks).tickFormat((d, k) => yTickLabels[i][k]).tickSize(3.5).tickPadding(3.5));
  [xAxis, yAxis].forEach(a => {
    a.select(".domain").remove();
    a.selectAll(".tick line").attr("stroke", "#555").attr("stroke-width", 0.8);
    a.selectAll(".tick text").attr("fill", "#666").attr("font-family", "DejaVu Sans").attr("font-size", 13);
  });

  // frame
  g.append("rect").attr("width", PW).attr("height", PH).attr("fill", "none").attr("stroke", "#555").attr("stroke-width", 1);

  // axis labels
  g.append("text").attr("x", PW / 2).attr("y", PH + 28).attr("text-anchor", "middle")
    .attr("font-family", "DejaVu Sans").attr("font-size", 11).attr("fill", "#222").text(xLabel);
  g.append("text").attr("transform", `translate(-32,${PH / 2}) rotate(-90)`).attr("text-anchor", "middle")
    .attr("dominant-baseline", "middle")
    .attr("font-family", "DejaVu Sans").attr("font-size", 11).attr("fill", "#222").text(yLabel);
}

// row labels
const rowCenters = [143, 408, 668];
rowLabels.forEach((lines, r) => {
  lines.forEach((txt, k) => {
    const cx = 74 + k * 32;
    svg.append("text").attr("transform", `translate(${cx},${rowCenters[r]}) rotate(-90)`)
      .attr("text-anchor", "middle").attr("dominant-baseline", "middle")
      .attr("font-family", "Lato").attr("font-size", 31).attr("fill", "#000").text(txt);
  });
});
</script>
</body></html>
